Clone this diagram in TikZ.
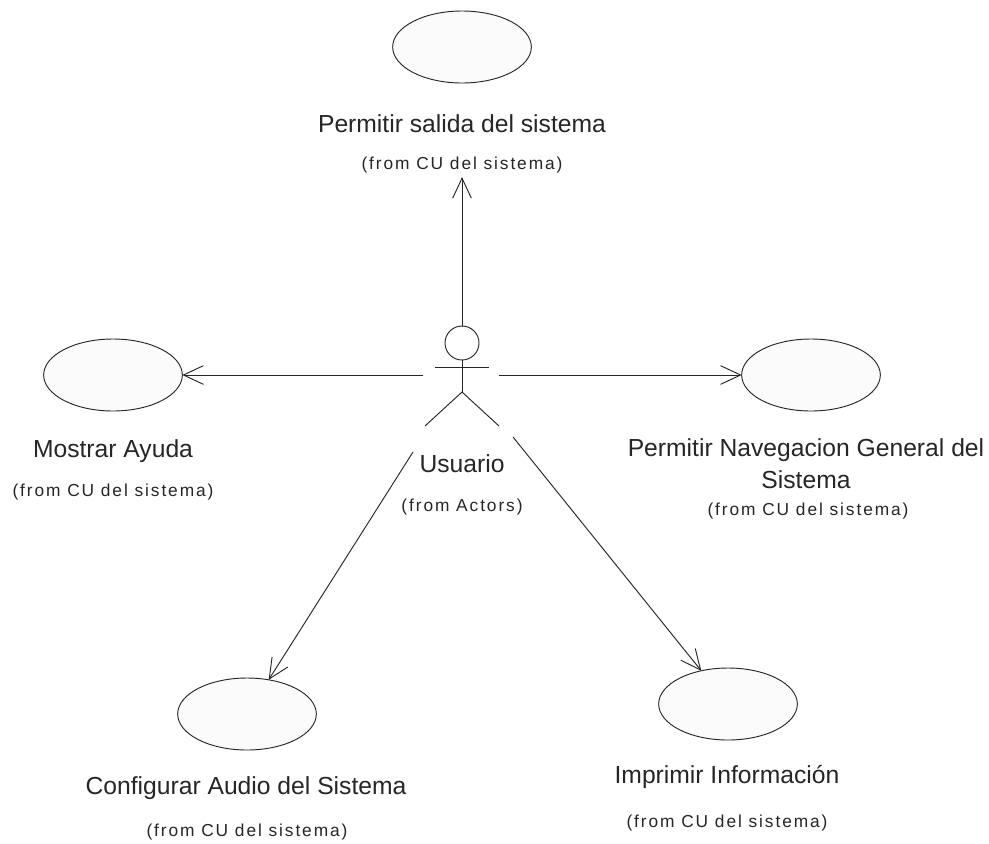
\documentclass[tikz,border=0pt]{standalone}
\usepackage{fontspec}
\setmainfont{Liberation Sans}
\newfontfamily\notefont[LetterSpace=11]{Liberation Sans}
\usetikzlibrary{shapes.geometric,arrows.meta}

\begin{document}
\begin{tikzpicture}[x=0.75pt,y=-0.75pt,
  usecase/.style={ellipse,draw=black!85,line width=0.7pt,fill=gray!3,
    minimum width=104pt,minimum height=54pt,inner sep=0pt,outer sep=0pt},
  title/.style={font=\fontsize{18.5}{24}\selectfont,text=black!85,inner sep=0pt,align=center},
  note/.style={font=\fontsize{13}{15}\notefont,text=black!85,inner sep=0pt,outer sep=3pt},
  assoc/.style={draw=black!85,line width=0.7pt,
    -{Straight Barb[length=15pt,width=14pt,line width=0.7pt]}},
  stick/.style={draw=black!85,line width=0.7pt}]
\useasboundingbox[fill=white] (0,0) rectangle (989,843);

% use cases
\node[usecase] (salida) at (462,47) {};
\node[title] (salidaT) at (462,124) {Permitir salida del sistema};
\node[note] (salidaF) at (462,165) {(from CU del sistema)};

\node[usecase] (ayuda) at (113,375) {};
\node[title] (ayudaT) at (113,451) {Mostrar Ayuda};
\node[note] (ayudaF) at (113,492) {(from CU del sistema)};

\node[usecase] (naveg) at (811,375) {};
\node[title] (navegT) at (806,464) {Permitir Navegacion General del\\Sistema};
\node[note] (navegF) at (808,511) {(from CU del sistema)};

\node[usecase] (audio) at (247,714) {};
\node[title] (audioT) at (246,788) {Configurar Audio del Sistema};
\node[note] (audioF) at (247,832) {(from CU del sistema)};

\node[usecase] (impr) at (728,704) {};
\node[title] (imprT) at (727,777) {Imprimir Información};
\node[note] (imprF) at (727,823) {(from CU del sistema)};

% actor
\node[circle,draw=black!85,line width=0.7pt,minimum size=25.5pt,inner sep=0pt,outer sep=0pt] (head) at (462,343) {};
\coordinate (hip) at (462,392);
\coordinate (handL) at (435,367);
\coordinate (handR) at (489,367);
\coordinate (footL) at (425,426);
\coordinate (footR) at (499,426);
\draw[stick] (head.south) -- (hip);
\draw[stick] (handL) -- (handR);
\draw[stick] (footL) -- (hip) -- (footR);
\node[title] (actorT) at (462,464) {Usuario};
\node[note] (actorF) at (462,507) {(from Actors)};

% connector ends at the actor
\coordinate (aL) at (423,375);
\coordinate (aR) at (499,375);
\coordinate (aBL) at (413,452);
\coordinate (aBR) at (513,437);

% associations
\draw[assoc] (head.north) -- (salidaF.south);
\draw[assoc] (aL) -- (ayuda.east);
\draw[assoc] (aR) -- (naveg.west);
\draw[assoc] (aBL) -- (audio);
\draw[assoc] (aBR) -- (impr);
\end{tikzpicture}
\end{document}
